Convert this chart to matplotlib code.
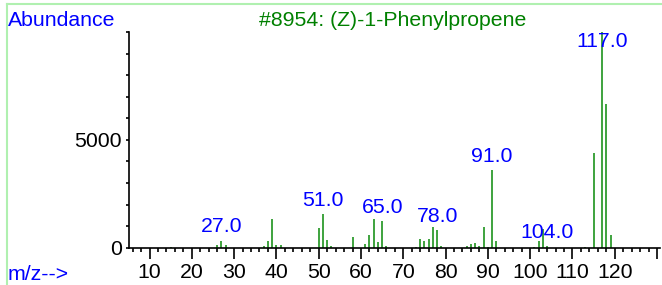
import matplotlib
matplotlib.use("Agg")
import matplotlib.pyplot as plt
from matplotlib.ticker import MultipleLocator
from matplotlib.lines import Line2D

plt.rcParams['font.family'] = ['Liberation Sans', 'DejaVu Sans']

# ---- data ----
mz = [15, 26, 27, 28, 37, 38, 39, 40, 41, 50, 51, 52, 53, 58, 61, 62, 63, 64, 65, 66,
      73, 74, 75, 76, 77, 78, 79, 85, 86, 87, 88, 89, 90, 91, 92,
      101, 102, 103, 104, 113, 115, 117, 118, 119]
abundance = [40, 125, 325, 125, 80, 310, 1330, 125, 125, 925, 1540, 355, 80, 510, 185, 590, 1330, 265, 1235, 80,
             45, 415, 325, 400, 955, 800, 60, 80, 155, 215, 95, 955, 30, 3600, 325,
             30, 325, 880, 60, 45, 4400, 9999, 6650, 590]
label_mz = [27, 51, 65, 78, 91, 104, 117]
x_ticks = [10, 20, 30, 40, 50, 60, 70, 80, 90, 100, 110, 120, 130]
x_tick_labels = ['10', '20', '30', '40', '50', '60', '70', '80', '90', '100', '110', '120', '']
y_ticks = [0, 5000]
y_tick_labels = ['0', '5000']
title = "#8954: (Z)-1-Phenylpropene"

W, H = 662, 285
fs = 15.3
fig = plt.figure(figsize=(W / 100, H / 100), dpi=100)
ax = fig.add_axes([129 / W, 1 - 247.7 / H, (660 - 129) / W, (247.7 - 32) / H])

green = '#0a8a0a'
ax.vlines(mz, 0, abundance, colors=green, lw=1.1, clip_on=False)

ax.set_xlim(5.15, 130.7)
ax.set_ylim(0, 10000)

for s in ['top', 'right']:
    ax.spines[s].set_visible(False)
for s in ['left', 'bottom']:
    ax.spines[s].set_color('black')
    ax.spines[s].set_linewidth(1.2)

ax.set_xticks(x_ticks)
ax.set_xticklabels(x_tick_labels)
ax.xaxis.set_minor_locator(MultipleLocator(2))
ax.set_yticks(y_ticks)
ax.set_yticklabels(y_tick_labels)
ax.yaxis.set_minor_locator(MultipleLocator(1000))

ax.tick_params(axis='x', which='major', length=8, width=1.2, direction='out', pad=3, labelsize=fs)
ax.tick_params(axis='x', which='minor', length=3, width=1.2, direction='out')
ax.tick_params(axis='y', which='both', length=2.3, width=1.2, direction='out', pad=3, labelsize=fs)

lookup = dict(zip(mz, abundance))
for m in label_mz:
    h = min(lookup.get(m, 0), 8900)
    ax.annotate(f"{m:.1f}", xy=(m, h), xytext=(0, 4.5), textcoords='offset pixels',
                ha='center', va='bottom', color='#0000ff', fontsize=fs, annotation_clip=False)

fig.text(8 / W, 1 - 26 / H, "Abundance", color='#0000ff', fontsize=fs, ha='left', va='baseline')
fig.text(393 / W, 1 - 26 / H, title, color='#008000', fontsize=fs, ha='center', va='baseline')
fig.text(8 / W, 1 - 280 / H, "m/z-->", color='#0000ff', fontsize=fs, ha='left', va='baseline')

# light green frame lines
fig.add_artist(Line2D([7 / W, 1], [1 - 4 / H, 1 - 4 / H], color='#b0f0b0', lw=1.5, transform=fig.transFigure))
fig.add_artist(Line2D([7 / W, 7 / W], [0, 1 - 4 / H], color='#b0f0b0', lw=1.5, transform=fig.transFigure))

fig.savefig('out.png', dpi=100)
